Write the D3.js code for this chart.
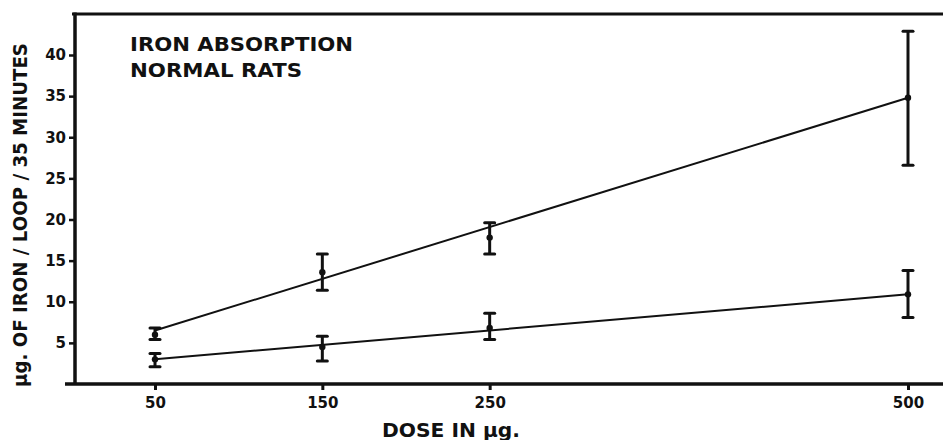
<!DOCTYPE html>
<html>
<head>
<meta charset="utf-8">
<script src="https://cdn.jsdelivr.net/npm/d3@7"></script>
<style>
  html, body { margin: 0; padding: 0; background: #fff; }
  svg { display: block; }
  text { font-family: "DejaVu Sans", sans-serif; font-weight: bold; fill: #111; }
</style>
</head>
<body>
<svg id="chart" width="943" height="440"></svg>
<script>
// ---- data ----
const doses = [50, 150, 250, 500];
const xTickLabels = ["50", "150", "250", "500"];
const yTicks = [5, 10, 15, 20, 25, 30, 35, 40];

const upperMean = [6.0, 13.6, 17.8, 34.8];
const upperLow  = [5.4, 11.4, 15.8, 26.6];
const upperHigh = [6.8, 15.8, 19.6, 42.9];

const lowerMean = [3.0, 4.5, 6.8, 10.9];
const lowerLow  = [2.1, 2.8, 5.4, 8.1];
const lowerHigh = [3.7, 5.8, 8.6, 13.8];

const fitDoses = [50, 500];
const upperFit = [6.5, 34.8];
const lowerFit = [3.0, 10.9];

const titleLines = ["IRON  ABSORPTION", "NORMAL  RATS"];
const xTitle = "DOSE  IN  µg.";
const yTitle = "µg. OF IRON / LOOP / 35 MINUTES";

// ---- layout ----
const svg = d3.select("#chart");
const x = d3.scaleLinear().domain([50, 500]).range([155, 908]);
const y = d3.scaleLinear().domain([0, 40]).range([384, 55]);

const axisLeftX = 75, axisBottomY = 384, topY = 14;
const ink = "#111";

// frame: top border, y axis line, x axis line
svg.append("line").attr("x1", 72).attr("x2", 943).attr("y1", topY).attr("y2", topY)
  .attr("stroke", ink).attr("stroke-width", 3);
svg.append("line").attr("x1", axisLeftX).attr("x2", axisLeftX).attr("y1", topY - 1.5).attr("y2", axisBottomY)
  .attr("stroke", ink).attr("stroke-width", 3.5);
svg.append("line").attr("x1", 65).attr("x2", 943).attr("y1", axisBottomY).attr("y2", axisBottomY)
  .attr("stroke", ink).attr("stroke-width", 3.5);

// y axis ticks via d3 axis
const yAxis = d3.axisLeft(y).tickValues(yTicks).tickSize(6).tickPadding(3).tickFormat(d3.format("d"));
const gy = svg.append("g").attr("transform", `translate(${axisLeftX},0)`).call(yAxis);
gy.select(".domain").remove();
gy.selectAll(".tick line").attr("stroke", ink).attr("stroke-width", 2.5);
gy.selectAll(".tick text").style("font-size", "15px").attr("fill", ink);

// x axis ticks via d3 axis
const xAxis = d3.axisBottom(x).tickValues(doses).tickSize(6).tickPadding(7)
  .tickFormat((d, i) => xTickLabels[i]);
const gx = svg.append("g").attr("transform", `translate(0,${axisBottomY})`).call(xAxis);
gx.select(".domain").remove();
gx.selectAll(".tick line").attr("stroke", ink).attr("stroke-width", 3);
gx.selectAll(".tick text").style("font-size", "15px").attr("fill", ink);

// regression lines
const line = d3.line().x(d => x(d[0])).y(d => y(d[1]));
[upperFit, lowerFit].forEach(fit => {
  svg.append("path").datum(fitDoses.map((d, i) => [d, fit[i]]))
    .attr("d", line).attr("fill", "none").attr("stroke", ink).attr("stroke-width", 2);
});

// error bars and means
function drawSeries(mean, low, high) {
  const g = svg.append("g");
  const data = doses.map((d, i) => ({ d, m: mean[i], lo: low[i], hi: high[i] }));
  g.selectAll("line.eb").data(data).join("line")
    .attr("x1", p => x(p.d)).attr("x2", p => x(p.d))
    .attr("y1", p => y(p.lo)).attr("y2", p => y(p.hi))
    .attr("stroke", ink).attr("stroke-width", 3);
  ["lo", "hi"].forEach(k => {
    g.selectAll("line.cap-" + k).data(data).join("line")
      .attr("x1", p => x(p.d) - 5).attr("x2", p => x(p.d) + 5)
      .attr("y1", p => y(p[k])).attr("y2", p => y(p[k]))
      .attr("stroke", ink).attr("stroke-width", 3).attr("stroke-linecap", "round");
  });
  g.selectAll("circle").data(data).join("circle")
    .attr("cx", p => x(p.d)).attr("cy", p => y(p.m)).attr("r", 3.2).attr("fill", ink);
}
drawSeries(upperMean, upperLow, upperHigh);
drawSeries(lowerMean, lowerLow, lowerHigh);

// chart title inside plot
svg.append("text").attr("x", 130).attr("y", 51).style("font-size", "19px")
  .attr("textLength", 223).attr("lengthAdjust", "spacingAndGlyphs").text(titleLines[0]);
svg.append("text").attr("x", 130).attr("y", 77).style("font-size", "19px")
  .attr("textLength", 172).attr("lengthAdjust", "spacingAndGlyphs").text(titleLines[1]);

// axis titles
svg.append("text").attr("x", 382).attr("y", 437).style("font-size", "19px")
  .attr("textLength", 138).attr("lengthAdjust", "spacingAndGlyphs").text(xTitle);
svg.append("text").attr("transform", "translate(27,215) rotate(-90)")
  .attr("text-anchor", "middle").style("font-size", "19px")
  .attr("textLength", 344).attr("lengthAdjust", "spacingAndGlyphs").text(yTitle);
</script>
</body>
</html>
